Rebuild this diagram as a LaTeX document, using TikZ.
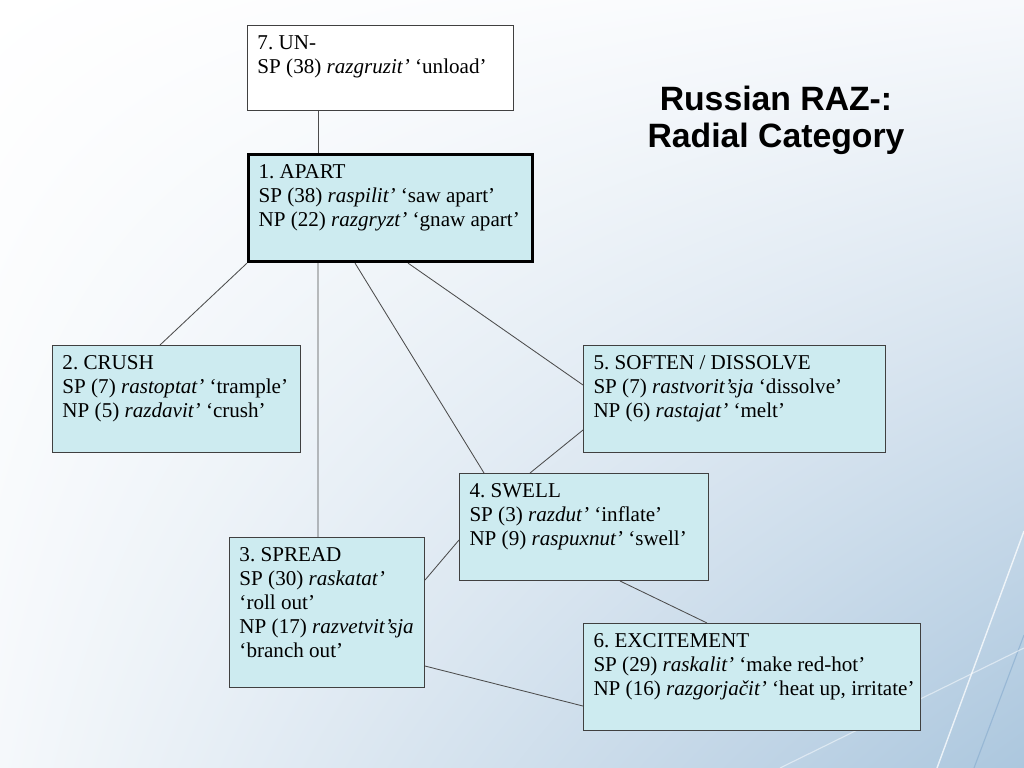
\documentclass[tikz,border=0pt]{standalone}
\usepackage{fontspec}
\setmainfont{Liberation Serif}
\setsansfont{Liberation Sans}
\usetikzlibrary{positioning, calc, shadings}
\definecolor{radblue}{RGB}{205,235,240}
\definecolor{radbgTR}{RGB}{247,249,252}
\definecolor{radbgBL}{RGB}{245,248,251}
\definecolor{radbgBR}{RGB}{172,199,222}
\definecolor{radstreak}{RGB}{140,175,208}
\tikzset{
    rad_box/.style={
        rectangle,
        draw=black!75,
        fill=radblue,
        line width=0.7pt,
        anchor=north west,
        inner xsep=0.25cm,
        inner ysep=0.19cm,
        font=\fontsize{15}{17}\selectfont
    },
    rad_core/.style={
        rad_box,
        draw=black,
        line width=2.2pt
    },
    rad_plain/.style={
        rad_box,
        fill=white
    },
    rad_link/.style={
        draw=black!70,
        line width=0.6pt
    },
    rad_title/.style={
        font=\sffamily\bfseries\fontsize{24}{26.5}\selectfont,
        align=center
    }
}
% text block of a box: width, height, lines
\newcommand{\radcell}[3]{\parbox[c][#2][t]{#1}{\frenchspacing\begin{tabular}[t]{@{}l@{}}#3\end{tabular}}}

\begin{document}
\begin{tikzpicture}[x=0.025cm, y=-0.025cm]

\useasboundingbox (0,0) rectangle (1024,768);
\shade[upper left=white, upper right=radbgTR, lower left=radbgBL, lower right=radbgBR]
  (0,0) rectangle (1024,768);
\draw[white, opacity=0.75, line width=1pt] (1024,531) -- (937,768);
\draw[radstreak, opacity=0.7, line width=0.8pt] (1024,635) -- (974,768);
\draw[white, opacity=0.5, line width=0.8pt] (780,768) -- (1024,648);

\node[rad_title] (Title) at (776,120) {Russian RAZ-:\\Radial Category};

\node[rad_plain] (Unload) at (247,25)
  {\radcell{6.15cm}{1.745cm}{7. UN-\\SP (38) \textit{razgruzit’} ‘unload’}};
\node[rad_core] (Apart) at (247,153)
  {\radcell{6.6cm}{2.295cm}{1. APART\\SP (38) \textit{raspilit’} ‘saw apart’\\NP (22) \textit{razgryzt’} ‘gnaw apart’}};
\node[rad_box] (Crush) at (52,345)
  {\radcell{5.7cm}{2.295cm}{2. CRUSH\\SP (7) \textit{rastoptat’} ‘trample’\\NP (5) \textit{razdavit’} ‘crush’}};
\node[rad_box] (Soften) at (583,345)
  {\radcell{7.05cm}{2.295cm}{5. SOFTEN / DISSOLVE\\SP (7) \textit{rastvorit’sja} ‘dissolve’\\NP (6) \textit{rastajat’} ‘melt’}};
\node[rad_box] (Swell) at (459,473)
  {\radcell{5.725cm}{2.295cm}{4. SWELL\\SP (3) \textit{razdut’} ‘inflate’\\NP (9) \textit{raspuxnut’} ‘swell’}};
\node[rad_box] (Spread) at (229,537)
  {\radcell{4.375cm}{3.37cm}{3. SPREAD\\SP (30) \textit{raskatat’}\\‘roll out’\\NP (17) \textit{razvetvit’sja}\\‘branch out’}};
\node[rad_box] (Excite) at (583,623)
  {\radcell{7.925cm}{2.295cm}{6. EXCITEMENT\\SP (29) \textit{raskalit’} ‘make red-hot’\\NP (16) \textit{razgorjačit’} ‘heat up, irritate’}};

\draw[rad_link] ([xshift=1.775cm]Unload.south west) -- ([xshift=1.775cm]Apart.north west);
\draw[rad_link] (Apart.south west) -- ([xshift=2.7cm]Crush.north west);
\draw[rad_link] ([xshift=1.775cm]Apart.south west) -- ([xshift=2.225cm]Spread.north west);
\draw[rad_link] ([xshift=2.7cm]Apart.south west) -- ([xshift=0.625cm]Swell.north west);
\draw[rad_link] ([xshift=4.025cm]Apart.south west) -- ([yshift=-1cm]Soften.north west);
\draw[rad_link] ([yshift=-2.125cm]Soften.north west) -- ([xshift=1.775cm]Swell.north west);
\draw[rad_link] ([yshift=-1.075cm]Spread.north east) -- ([yshift=-1.675cm]Swell.north west);
\draw[rad_link] ([xshift=4.025cm]Swell.south west) -- ([xshift=3.1cm]Excite.north west);
\draw[rad_link] ([yshift=-3.225cm]Spread.north east) -- ([yshift=-2.075cm]Excite.north west);

\end{tikzpicture}
\end{document}
